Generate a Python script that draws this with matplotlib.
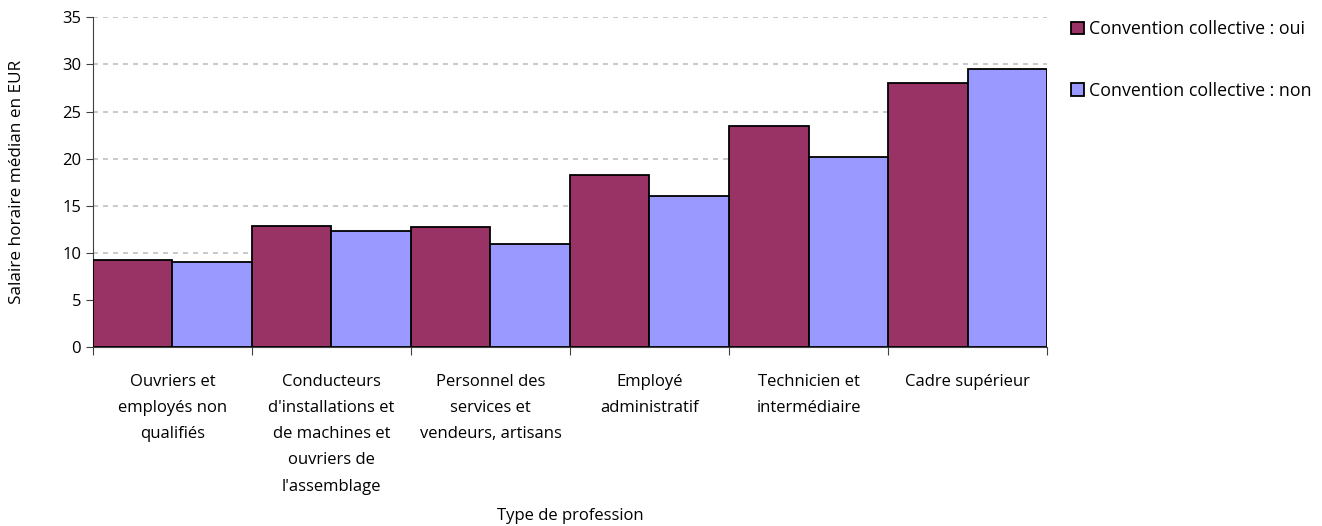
import numpy as np
import matplotlib.pyplot as plt

plt.rcParams['font.family'] = ['Open Sans', 'DejaVu Sans']

# salaire horaire median par type de profession
professions = [
    "Ouvriers et\nemployés non\nqualifiés",
    "Conducteurs\nd'installations et\nde machines et\nouvriers de\nl'assemblage",
    "Personnel des\nservices et\nvendeurs, artisans",
    "Employé\nadministratif",
    "Technicien et\nintermédiaire",
    "Cadre supérieur",
]
convention_oui = [9.3, 12.9, 12.8, 18.3, 23.5, 28.0]
convention_non = [9.1, 12.3, 11.0, 16.0, 20.2, 29.5]

fig = plt.figure(figsize=(13.22, 5.26), dpi=100)
ax = fig.add_axes([0.0703, 0.3397, 0.7217, 0.6273])

x = np.arange(len(professions))
w = 0.5
ax.bar(x - w/2, convention_oui, w, color='#993366', edgecolor='black', linewidth=1.3,
       label='Convention collective : oui', zorder=3)
ax.bar(x + w/2, convention_non, w, color='#9999FF', edgecolor='black', linewidth=1.3,
       label='Convention collective : non', zorder=3)

ax.set_xlim(-0.5, len(professions) - 0.5)
ax.set_ylim(0, 35)
ax.set_yticks(np.arange(0, 36, 5))
ax.yaxis.grid(True, color='#c0c0c0', linestyle=(0, (3, 3)), linewidth=1.2)
ax.set_axisbelow(True)

# ticks entre les categories, labels au centre
ax.set_xticks(np.arange(-0.5, len(professions)), minor=False)
ax.set_xticklabels([])
ax.set_xticks(x, minor=True)
ax.set_xticklabels(professions, minor=True, fontsize=12, va='top', linespacing=1.85)
ax.tick_params(axis='x', which='minor', length=0, pad=19)
ax.tick_params(axis='x', which='major', length=6, direction='out', color='#404040')
ax.tick_params(axis='y', length=5, direction='out', labelsize=12, color='#404040')

for s in ['top', 'right']:
    ax.spines[s].set_visible(False)
ax.spines['left'].set_color('#404040')
ax.spines['bottom'].set_color('#404040')

ax.set_ylabel('Salaire horaire médian en EUR', fontsize=12.3, labelpad=27)
ax.set_xlabel('Type de profession', fontsize=12, labelpad=10)

fig.legend(loc='upper left', bbox_to_anchor=(0.805, 0.975), frameon=False,
           fontsize=12.8, handlelength=0.72, handleheight=0.72, handletextpad=0.3,
           labelspacing=2.45, borderaxespad=0)

fig.savefig('out.png', dpi=100)
